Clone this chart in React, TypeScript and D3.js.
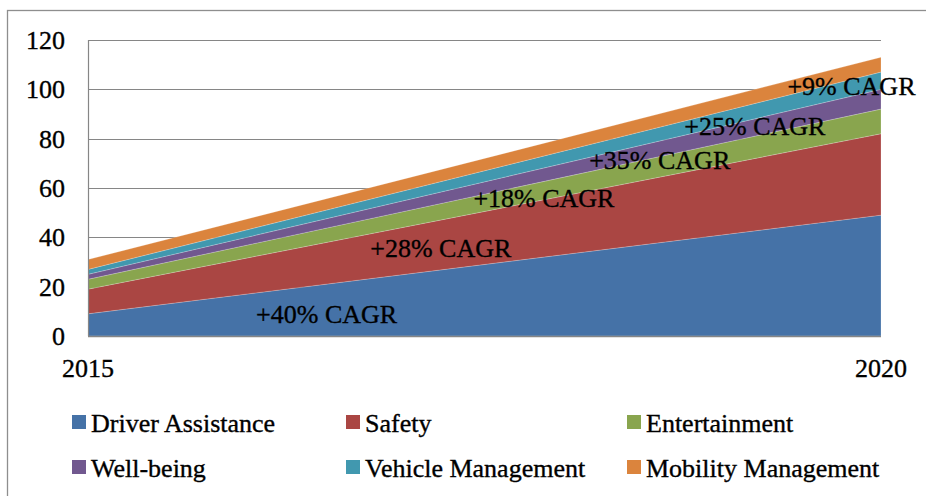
import { useEffect, useRef } from "react";
import * as d3 from "d3";

const years = [2015, 2020];
const seriesNames = [
  "Driver Assistance",
  "Safety",
  "Entertainment",
  "Well-being",
  "Vehicle Management",
  "Mobility Management",
];
const driverAssistance = [9, 49];
const safety = [10, 33];
const entertainment = [4, 10];
const wellBeing = [2, 8];
const vehicleManagement = [2, 7];
const mobilityManagement = [4, 6];
const yTicks = [0, 20, 40, 60, 80, 100, 120];

// annotation texts, anchored in data units (year, value)
const cagrLabels = ["+40% CAGR", "+28% CAGR", "+18% CAGR", "+35% CAGR", "+25% CAGR", "+9% CAGR"];
const cagrYears = [2016.06, 2016.78, 2017.43, 2018.16, 2018.76, 2019.41];
const cagrValues = [5.4, 31.9, 52.4, 67.8, 81.5, 97.7];

const colors = ["#4572A7", "#AA4643", "#89A54E", "#71588F", "#4198AF", "#DB843D"];
const FONT = '"Liberation Serif", "Times New Roman", serif';

const App = () => {
  const ref = useRef<SVGSVGElement>(null);

  useEffect(() => {
    const svg = d3.select(ref.current);
    svg.selectAll("*").remove();

    const width = 926;
    const height = 496;
    const margin = { top: 40, right: 45, bottom: 160, left: 88 };

    const rows = years.map((year, i) => ({
      year,
      [seriesNames[0]]: driverAssistance[i],
      [seriesNames[1]]: safety[i],
      [seriesNames[2]]: entertainment[i],
      [seriesNames[3]]: wellBeing[i],
      [seriesNames[4]]: vehicleManagement[i],
      [seriesNames[5]]: mobilityManagement[i],
    }));

    const x = d3
      .scaleLinear()
      .domain(d3.extent(years) as [number, number])
      .range([margin.left, width - margin.right]);
    const y = d3
      .scaleLinear()
      .domain([0, 120])
      .range([height - margin.bottom, margin.top]);

    svg.attr("font-family", FONT);

    // outer chart border
    svg
      .append("rect")
      .attr("x", 7.5)
      .attr("y", 10.5)
      .attr("width", width)
      .attr("height", height)
      .attr("fill", "none")
      .attr("stroke", "#8e8e8e")
      .attr("stroke-width", 1.3);

    // gridlines
    svg
      .append("g")
      .selectAll("line")
      .data(yTicks.slice(1))
      .join("line")
      .attr("x1", x(2015))
      .attr("x2", x(2020))
      .attr("y1", d => Math.round(y(d)) + 0.5)
      .attr("y2", d => Math.round(y(d)) + 0.5)
      .attr("stroke", "#868686")
      .attr("stroke-width", 1.2);

    const stack = d3.stack<any>().keys(seriesNames);
    const layers = stack(rows);

    const area = d3
      .area<any>()
      .x(d => x(d.data.year))
      .y0(d => y(d[0]))
      .y1(d => y(d[1]));

    svg
      .append("g")
      .selectAll("path")
      .data(layers)
      .join("path")
      .attr("d", area)
      .attr("fill", (_, i) => colors[i])
      .attr("stroke", "#ffffff")
      .attr("stroke-opacity", 0.35)
      .attr("stroke-width", 0.6);

    // axis lines
    svg
      .append("line")
      .attr("x1", Math.round(x(2015)) + 0.5)
      .attr("x2", Math.round(x(2015)) + 0.5)
      .attr("y1", y(120))
      .attr("y2", y(0))
      .attr("stroke", "#868686")
      .attr("stroke-width", 1.2);
    svg
      .append("line")
      .attr("x1", x(2015))
      .attr("x2", x(2020))
      .attr("y1", Math.round(y(0)) + 0.5)
      .attr("y2", Math.round(y(0)) + 0.5)
      .attr("stroke", "#868686")
      .attr("stroke-width", 1.5);

    const txt = (sel: any) =>
      sel.attr("font-size", 26).attr("fill", "#000").attr("stroke", "#000").attr("stroke-width", 0.35);

    // y tick labels
    svg
      .append("g")
      .selectAll("text")
      .data(yTicks)
      .join("text")
      .attr("x", 65)
      .attr("y", d => y(d))
      .attr("dy", "0.35em")
      .attr("text-anchor", "end")
      .call(txt)
      .text(d => d);

    // x labels
    svg
      .append("g")
      .selectAll("text")
      .data(years)
      .join("text")
      .attr("x", d => x(d))
      .attr("y", 377)
      .attr("text-anchor", "middle")
      .call(txt)
      .text(d => d);

    // CAGR annotations
    svg
      .append("g")
      .selectAll("text")
      .data(cagrLabels)
      .join("text")
      .attr("x", (_, i) => x(cagrYears[i]))
      .attr("y", (_, i) => y(cagrValues[i]))
      .call(txt)
      .text(d => d);

    // legend
    const colX = [72, 346, 627];
    const rowY = [432, 477];
    const legend = svg
      .append("g")
      .selectAll("g")
      .data(seriesNames)
      .join("g")
      .attr("transform", (_, i) => `translate(${colX[i % 3]},${rowY[Math.floor(i / 3)]})`);
    legend
      .append("rect")
      .attr("x", 0)
      .attr("y", -17)
      .attr("width", 14)
      .attr("height", 14)
      .attr("fill", (_, i) => colors[i]);
    legend
      .append("text")
      .attr("x", 19)
      .attr("y", 0)
      .call(txt)
      .text(d => d);
  }, []);

  return (
    <div style={{ position: "fixed", left: 0, top: 0, width: 926, height: 496, background: "#fff" }}>
      <svg ref={ref} width={926} height={496} style={{ display: "block" }} />
    </div>
  );
};

export default App;
